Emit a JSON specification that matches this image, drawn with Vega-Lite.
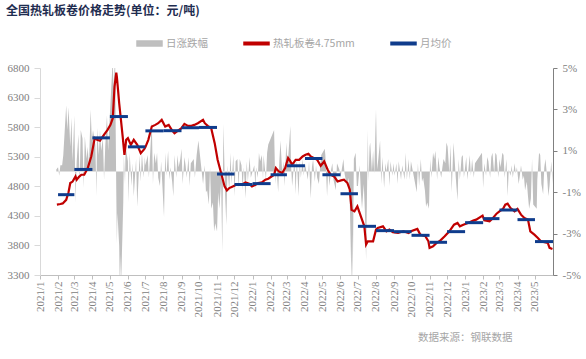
{
"$schema": "https://vega.github.io/schema/vega-lite/v6.json",
"width": 513, "height": 207,
"autosize": {"type": "none"},
"padding": {"left": 40, "top": 68, "right": 33, "bottom": 84},
"background": "white",
"title": {"text": "全国热轧板卷价格走势(单位：元/吨)", "anchor": "start", "frame": "group", "dx": -34, "offset": 12, "font": "Noto Sans CJK SC", "fontSize": 12, "fontWeight": "bold", "color": "#1F2D50"},
"config": {"view": {"stroke": null}, "axis": {"labelFont": "Liberation Serif", "labelFontSize": 11, "labelColor": "#808080", "grid": false, "title": null, "labelOverlap": false, "labelBound": false}, "axisY": {"labelOverlap": false}},
"datasets": {
"chg": [
{"d":"2021-01-29","v":0.1},{"d":"2021-02-01","v":0.2},{"d":"2021-02-03","v":-0.2},{"d":"2021-02-05","v":0.3},{"d":"2021-02-08","v":0.3},{"d":"2021-02-10","v":0.8},{"d":"2021-02-15","v":3.2},{"d":"2021-02-17","v":2.0},{"d":"2021-02-19","v":3.1},{"d":"2021-02-22","v":1.2},{"d":"2021-02-24","v":2.6},{"d":"2021-02-26","v":0.5},
{"d":"2021-03-01","v":2.7},{"d":"2021-03-03","v":-1.5},{"d":"2021-03-05","v":0.5},{"d":"2021-03-08","v":1.8},{"d":"2021-03-10","v":-0.6},{"d":"2021-03-12","v":2.0},{"d":"2021-03-15","v":1.6},{"d":"2021-03-17","v":-0.8},{"d":"2021-03-19","v":1.7},{"d":"2021-03-22","v":0.6},{"d":"2021-03-24","v":1.2},{"d":"2021-03-26","v":0.2},{"d":"2021-03-29","v":3.0},{"d":"2021-03-31","v":1.5},
{"d":"2021-04-02","v":2.0},{"d":"2021-04-06","v":1.3},{"d":"2021-04-08","v":-1.2},{"d":"2021-04-09","v":2.1},{"d":"2021-04-12","v":0.8},{"d":"2021-04-14","v":2.0},{"d":"2021-04-16","v":1.0},{"d":"2021-04-19","v":1.6},{"d":"2021-04-21","v":-0.4},{"d":"2021-04-23","v":1.2},{"d":"2021-04-26","v":2.7},{"d":"2021-04-28","v":1.0},{"d":"2021-04-30","v":2.2},
{"d":"2021-05-06","v":5.5},{"d":"2021-05-07","v":4.0},{"d":"2021-05-10","v":5.5},{"d":"2021-05-11","v":2.0},{"d":"2021-05-12","v":-1.0},{"d":"2021-05-13","v":-3.5},{"d":"2021-05-14","v":-2.0},{"d":"2021-05-17","v":-3.6},{"d":"2021-05-18","v":-5.5},{"d":"2021-05-19","v":-4.0},{"d":"2021-05-20","v":-5.5},{"d":"2021-05-21","v":-4.7},{"d":"2021-05-24","v":-1.5},{"d":"2021-05-25","v":0.8},{"d":"2021-05-27","v":-0.6},{"d":"2021-05-28","v":1.2},
{"d":"2021-06-01","v":0.5},{"d":"2021-06-02","v":-1.5},{"d":"2021-06-04","v":0.9},{"d":"2021-06-07","v":-0.7},{"d":"2021-06-09","v":0.4},{"d":"2021-06-11","v":-1.2},{"d":"2021-06-15","v":0.6},{"d":"2021-06-17","v":-1.7},{"d":"2021-06-21","v":0.8},{"d":"2021-06-23","v":-0.5},{"d":"2021-06-25","v":0.9},{"d":"2021-06-28","v":-0.3},{"d":"2021-06-30","v":0.7},
{"d":"2021-07-01","v":0.3},{"d":"2021-07-05","v":0.8},{"d":"2021-07-07","v":-0.3},{"d":"2021-07-12","v":2.4},{"d":"2021-07-14","v":-0.6},{"d":"2021-07-16","v":0.9},{"d":"2021-07-19","v":0.4},{"d":"2021-07-21","v":0.9},{"d":"2021-07-23","v":-0.3},{"d":"2021-07-26","v":-0.7},{"d":"2021-07-28","v":0.5},
{"d":"2021-08-02","v":-2.2},{"d":"2021-08-04","v":0.9},{"d":"2021-08-06","v":-0.2},{"d":"2021-08-09","v":1.0},{"d":"2021-08-11","v":-0.4},{"d":"2021-08-13","v":0.2},{"d":"2021-08-16","v":-0.5},{"d":"2021-08-18","v":-1.2},{"d":"2021-08-20","v":0.8},{"d":"2021-08-23","v":-0.3},{"d":"2021-08-25","v":0.8},{"d":"2021-08-27","v":0.2},{"d":"2021-08-30","v":0.6},
{"d":"2021-09-01","v":1.1},{"d":"2021-09-03","v":-0.6},{"d":"2021-09-06","v":0.7},{"d":"2021-09-08","v":0.3},{"d":"2021-09-10","v":-0.3},{"d":"2021-09-13","v":0.7},{"d":"2021-09-15","v":-0.7},{"d":"2021-09-17","v":0.4},{"d":"2021-09-22","v":0.6},{"d":"2021-09-24","v":-0.3},{"d":"2021-09-27","v":0.8},{"d":"2021-09-30","v":1.5},
{"d":"2021-10-08","v":-0.6},{"d":"2021-10-11","v":0.3},{"d":"2021-10-13","v":-1.0},{"d":"2021-10-15","v":-0.9},{"d":"2021-10-18","v":-1.6},{"d":"2021-10-20","v":0.2},{"d":"2021-10-22","v":-1.8},{"d":"2021-10-25","v":-1.5},{"d":"2021-10-27","v":-2.9},{"d":"2021-10-29","v":-2.5},
{"d":"2021-11-01","v":-2.9},{"d":"2021-11-03","v":-1.0},{"d":"2021-11-05","v":-1.8},{"d":"2021-11-08","v":-0.5},{"d":"2021-11-10","v":-3.9},{"d":"2021-11-12","v":2.3},{"d":"2021-11-15","v":-1.2},{"d":"2021-11-17","v":-2.6},{"d":"2021-11-19","v":0.3},{"d":"2021-11-22","v":-1.0},{"d":"2021-11-24","v":0.9},{"d":"2021-11-26","v":-0.6},{"d":"2021-11-29","v":0.8},
{"d":"2021-12-01","v":-1.2},{"d":"2021-12-03","v":0.5},{"d":"2021-12-06","v":0.6},{"d":"2021-12-08","v":-0.8},{"d":"2021-12-10","v":0.6},{"d":"2021-12-13","v":0.3},{"d":"2021-12-15","v":-0.9},{"d":"2021-12-17","v":0.2},{"d":"2021-12-20","v":-1.3},{"d":"2021-12-22","v":0.5},{"d":"2021-12-24","v":-0.5},{"d":"2021-12-27","v":0.7},{"d":"2021-12-29","v":-0.3},
{"d":"2022-01-04","v":0.3},{"d":"2022-01-06","v":-0.9},{"d":"2022-01-07","v":0.2},{"d":"2022-01-10","v":-0.3},{"d":"2022-01-12","v":0.9},{"d":"2022-01-14","v":0.5},{"d":"2022-01-17","v":0.8},{"d":"2022-01-19","v":-0.4},{"d":"2022-01-20","v":0.8},{"d":"2022-01-24","v":-0.4},{"d":"2022-01-26","v":0.9},{"d":"2022-01-28","v":1.3},
{"d":"2022-02-07","v":2.0},{"d":"2022-02-09","v":-0.6},{"d":"2022-02-11","v":0.3},{"d":"2022-02-14","v":-1.0},{"d":"2022-02-16","v":0.5},{"d":"2022-02-18","v":1.5},{"d":"2022-02-21","v":-0.1},{"d":"2022-02-23","v":0.5},{"d":"2022-02-25","v":-0.7},{"d":"2022-02-28","v":1.4},
{"d":"2022-03-02","v":0.3},{"d":"2022-03-04","v":1.0},{"d":"2022-03-07","v":2.2},{"d":"2022-03-08","v":0.4},{"d":"2022-03-10","v":-0.7},{"d":"2022-03-14","v":0.6},{"d":"2022-03-16","v":-1.1},{"d":"2022-03-18","v":0.6},{"d":"2022-03-21","v":-1.2},{"d":"2022-03-23","v":0.5},{"d":"2022-03-25","v":-0.3},{"d":"2022-03-28","v":0.6},{"d":"2022-03-30","v":-0.2},
{"d":"2022-04-01","v":0.4},{"d":"2022-04-06","v":-0.4},{"d":"2022-04-08","v":0.5},{"d":"2022-04-11","v":-1.3},{"d":"2022-04-13","v":0.2},{"d":"2022-04-15","v":0.6},{"d":"2022-04-18","v":-0.5},{"d":"2022-04-20","v":0.3},{"d":"2022-04-22","v":-0.3},{"d":"2022-04-25","v":-0.6},{"d":"2022-04-27","v":0.2},{"d":"2022-04-29","v":0.8},
{"d":"2022-05-05","v":1.1},{"d":"2022-05-06","v":0.8},{"d":"2022-05-09","v":-1.2},{"d":"2022-05-11","v":0.2},{"d":"2022-05-13","v":-0.7},{"d":"2022-05-16","v":0.1},{"d":"2022-05-18","v":0.4},{"d":"2022-05-20","v":-0.4},{"d":"2022-05-24","v":-0.9},{"d":"2022-05-26","v":0.4},{"d":"2022-05-30","v":0.1},
{"d":"2022-06-01","v":-0.3},{"d":"2022-06-06","v":0.6},{"d":"2022-06-08","v":-0.1},{"d":"2022-06-10","v":-0.4},{"d":"2022-06-13","v":-0.6},{"d":"2022-06-15","v":-0.3},{"d":"2022-06-17","v":-1.5},{"d":"2022-06-20","v":-5.5},{"d":"2022-06-21","v":-3.0},{"d":"2022-06-22","v":-5.5},{"d":"2022-06-24","v":0.6},{"d":"2022-06-27","v":0.9},{"d":"2022-06-29","v":-0.7},
{"d":"2022-07-01","v":-0.7},{"d":"2022-07-04","v":0.3},{"d":"2022-07-06","v":-1.0},{"d":"2022-07-08","v":-1.8},{"d":"2022-07-11","v":-0.6},{"d":"2022-07-13","v":-2.0},{"d":"2022-07-15","v":-4.3},{"d":"2022-07-18","v":2.0},{"d":"2022-07-19","v":-0.5},{"d":"2022-07-21","v":1.2},{"d":"2022-07-22","v":1.4},{"d":"2022-07-25","v":0.0},{"d":"2022-07-27","v":1.0},{"d":"2022-07-29","v":-0.1},
{"d":"2022-08-01","v":3.0},{"d":"2022-08-03","v":0.1},{"d":"2022-08-05","v":0.6},{"d":"2022-08-08","v":1.5},{"d":"2022-08-10","v":-0.6},{"d":"2022-08-12","v":0.7},{"d":"2022-08-15","v":-0.8},{"d":"2022-08-17","v":0.4},{"d":"2022-08-19","v":0.0},{"d":"2022-08-22","v":0.6},{"d":"2022-08-24","v":-0.7},{"d":"2022-08-26","v":0.5},{"d":"2022-08-29","v":-0.2},{"d":"2022-08-31","v":0.4},
{"d":"2022-09-02","v":-0.2},{"d":"2022-09-05","v":0.4},{"d":"2022-09-07","v":-0.6},{"d":"2022-09-09","v":0.5},{"d":"2022-09-13","v":-0.4},{"d":"2022-09-15","v":0.3},{"d":"2022-09-19","v":-0.4},{"d":"2022-09-21","v":0.9},{"d":"2022-09-23","v":-0.4},{"d":"2022-09-26","v":0.6},{"d":"2022-09-28","v":-0.4},{"d":"2022-09-30","v":0.5},
{"d":"2022-10-10","v":-1.0},{"d":"2022-10-12","v":0.4},{"d":"2022-10-14","v":-0.7},{"d":"2022-10-17","v":0.6},{"d":"2022-10-19","v":-0.5},{"d":"2022-10-21","v":-0.3},{"d":"2022-10-24","v":-0.9},{"d":"2022-10-26","v":-1.7},{"d":"2022-10-28","v":-1.5},{"d":"2022-10-31","v":-1.8},
{"d":"2022-11-02","v":0.6},{"d":"2022-11-04","v":-0.3},{"d":"2022-11-07","v":0.9},{"d":"2022-11-09","v":0.6},{"d":"2022-11-11","v":1.0},{"d":"2022-11-14","v":-0.4},{"d":"2022-11-16","v":0.7},{"d":"2022-11-18","v":0.2},{"d":"2022-11-21","v":-0.3},{"d":"2022-11-23","v":0.2},{"d":"2022-11-25","v":0.6},{"d":"2022-11-28","v":0.4},{"d":"2022-11-30","v":1.4},
{"d":"2022-12-02","v":1.2},{"d":"2022-12-05","v":-0.1},{"d":"2022-12-07","v":1.3},{"d":"2022-12-09","v":-1.0},{"d":"2022-12-12","v":1.4},{"d":"2022-12-14","v":0.6},{"d":"2022-12-16","v":-0.3},{"d":"2022-12-19","v":-1.4},{"d":"2022-12-21","v":0.6},{"d":"2022-12-23","v":-0.4},{"d":"2022-12-26","v":0.7},{"d":"2022-12-28","v":0.8},{"d":"2022-12-30","v":-0.3},
{"d":"2023-01-03","v":0.7},{"d":"2023-01-05","v":-0.4},{"d":"2023-01-09","v":0.8},{"d":"2023-01-11","v":-0.2},{"d":"2023-01-13","v":0.6},{"d":"2023-01-16","v":-0.3},{"d":"2023-01-18","v":0.4},{"d":"2023-01-30","v":0.9},
{"d":"2023-02-01","v":-0.8},{"d":"2023-02-03","v":0.4},{"d":"2023-02-06","v":-0.2},{"d":"2023-02-08","v":0.7},{"d":"2023-02-10","v":0.5},{"d":"2023-02-13","v":-0.3},{"d":"2023-02-15","v":0.7},{"d":"2023-02-17","v":0.9},{"d":"2023-02-20","v":-0.1},{"d":"2023-02-22","v":0.9},{"d":"2023-02-24","v":0.8},{"d":"2023-02-27","v":-0.3},
{"d":"2023-03-01","v":0.6},{"d":"2023-03-03","v":0.2},{"d":"2023-03-06","v":0.9},{"d":"2023-03-08","v":0.8},{"d":"2023-03-10","v":-0.3},{"d":"2023-03-13","v":0.6},{"d":"2023-03-15","v":-1.2},{"d":"2023-03-17","v":0.1},{"d":"2023-03-20","v":-0.2},{"d":"2023-03-22","v":0.3},{"d":"2023-03-24","v":-0.3},{"d":"2023-03-27","v":0.4},{"d":"2023-03-29","v":-0.1},{"d":"2023-03-31","v":0.2},
{"d":"2023-04-03","v":-0.6},{"d":"2023-04-05","v":-0.2},{"d":"2023-04-07","v":0.3},{"d":"2023-04-10","v":-0.4},{"d":"2023-04-12","v":-0.2},{"d":"2023-04-14","v":-0.9},{"d":"2023-04-17","v":-0.5},{"d":"2023-04-19","v":-1.2},{"d":"2023-04-21","v":-1.8},{"d":"2023-04-24","v":-1.3},{"d":"2023-04-26","v":0.6},{"d":"2023-04-28","v":-1.6},
{"d":"2023-05-04","v":-1.8},{"d":"2023-05-05","v":-0.4},{"d":"2023-05-08","v":0.9},{"d":"2023-05-10","v":0.8},{"d":"2023-05-12","v":-0.6},{"d":"2023-05-15","v":-1.1},{"d":"2023-05-17","v":0.2},{"d":"2023-05-19","v":0.6},{"d":"2023-05-22","v":-0.3},{"d":"2023-05-24","v":-1.2},{"d":"2023-05-26","v":-0.7},{"d":"2023-05-29","v":0.5},{"d":"2023-05-31","v":-0.6}
],
"price": [
{"d":"2021-01-30","p":4490},{"d":"2021-02-05","p":4500},{"d":"2021-02-09","p":4510},{"d":"2021-02-15","p":4570},{"d":"2021-02-19","p":4700},{"d":"2021-02-22","p":4855},{"d":"2021-02-26","p":4880},{"d":"2021-03-03","p":4966},{"d":"2021-03-05","p":4911},{"d":"2021-03-09","p":4960},{"d":"2021-03-13","p":4995},{"d":"2021-03-18","p":4995},{"d":"2021-03-24","p":5108},{"d":"2021-03-30","p":5304},
{"d":"2021-04-05","p":5614},{"d":"2021-04-09","p":5585},{"d":"2021-04-14","p":5570},{"d":"2021-04-16","p":5600},{"d":"2021-04-22","p":5687},{"d":"2021-04-27","p":5754},{"d":"2021-05-02","p":5838},{"d":"2021-05-06","p":5951},{"d":"2021-05-09","p":6485},{"d":"2021-05-12","p":6721},{"d":"2021-05-13","p":6650},{"d":"2021-05-15","p":6429},{"d":"2021-05-17","p":6204},{"d":"2021-05-20","p":5923},{"d":"2021-05-23","p":5641},{"d":"2021-05-26","p":5332},{"d":"2021-05-29","p":5585},
{"d":"2021-06-01","p":5614},{"d":"2021-06-06","p":5501},{"d":"2021-06-11","p":5585},{"d":"2021-06-17","p":5501},{"d":"2021-06-23","p":5361},{"d":"2021-06-29","p":5428},{"d":"2021-07-01","p":5462},{"d":"2021-07-06","p":5585},{"d":"2021-07-12","p":5810},{"d":"2021-07-18","p":5838},{"d":"2021-07-23","p":5867},{"d":"2021-07-29","p":5923},
{"d":"2021-08-04","p":5810},{"d":"2021-08-10","p":5838},{"d":"2021-08-16","p":5742},{"d":"2021-08-20","p":5698},{"d":"2021-08-26","p":5742},{"d":"2021-09-01","p":5782},{"d":"2021-09-06","p":5855},{"d":"2021-09-12","p":5821},{"d":"2021-09-18","p":5821},{"d":"2021-09-23","p":5838},{"d":"2021-09-29","p":5867},
{"d":"2021-10-08","p":5923},{"d":"2021-10-11","p":5867},{"d":"2021-10-16","p":5821},{"d":"2021-10-22","p":5782},{"d":"2021-10-28","p":5529},{"d":"2021-11-02","p":5248},{"d":"2021-11-08","p":5024},{"d":"2021-11-14","p":4798},{"d":"2021-11-18","p":4730},{"d":"2021-11-22","p":4770},{"d":"2021-11-28","p":4798},
{"d":"2021-12-04","p":4826},{"d":"2021-12-13","p":4826},{"d":"2021-12-20","p":4865},{"d":"2021-12-26","p":4843},{"d":"2021-12-31","p":4798},
{"d":"2022-01-06","p":4826},{"d":"2022-01-11","p":4855},{"d":"2022-01-17","p":4865},{"d":"2022-01-23","p":4911},{"d":"2022-01-28","p":4928},{"d":"2022-02-07","p":4995},{"d":"2022-02-10","p":5108},{"d":"2022-02-15","p":5051},{"d":"2022-02-21","p":5024},{"d":"2022-02-26","p":5108},
{"d":"2022-03-03","p":5277},{"d":"2022-03-07","p":5220},{"d":"2022-03-10","p":5164},{"d":"2022-03-16","p":5248},{"d":"2022-03-22","p":5248},{"d":"2022-03-28","p":5304},{"d":"2022-04-02","p":5332},{"d":"2022-04-07","p":5349},{"d":"2022-04-11","p":5304},{"d":"2022-04-17","p":5276},{"d":"2022-04-22","p":5248},{"d":"2022-04-28","p":5147},
{"d":"2022-05-04","p":5220},{"d":"2022-05-10","p":5079},{"d":"2022-05-15","p":4995},{"d":"2022-05-21","p":4966},{"d":"2022-05-27","p":4882},{"d":"2022-06-02","p":4899},{"d":"2022-06-07","p":4911},{"d":"2022-06-13","p":4855},{"d":"2022-06-17","p":4742},{"d":"2022-06-20","p":4404},{"d":"2022-06-25","p":4376},{"d":"2022-06-30","p":4460},
{"d":"2022-07-06","p":4292},{"d":"2022-07-12","p":4123},{"d":"2022-07-15","p":3814},{"d":"2022-07-18","p":3870},{"d":"2022-07-27","p":3870},{"d":"2022-08-01","p":4067},{"d":"2022-08-04","p":4096},{"d":"2022-08-13","p":4123},{"d":"2022-08-19","p":4039},{"d":"2022-08-24","p":4067},{"d":"2022-08-30","p":4022},
{"d":"2022-09-08","p":4011},{"d":"2022-09-17","p":4039},{"d":"2022-09-26","p":4011},{"d":"2022-09-30","p":4039},{"d":"2022-10-11","p":4079},{"d":"2022-10-16","p":3983},{"d":"2022-10-25","p":3954},{"d":"2022-10-30","p":3870},{"d":"2022-11-01","p":3758},{"d":"2022-11-07","p":3786},{"d":"2022-11-13","p":3843},{"d":"2022-11-18","p":3870},{"d":"2022-11-27","p":3954},
{"d":"2022-12-05","p":4039},{"d":"2022-12-13","p":4151},{"d":"2022-12-19","p":4180},{"d":"2022-12-23","p":4123},{"d":"2022-12-29","p":4151},
{"d":"2023-01-06","p":4180},{"d":"2023-01-15","p":4219},{"d":"2023-01-20","p":4236},{"d":"2023-01-31","p":4303},{"d":"2023-02-03","p":4224},{"d":"2023-02-12","p":4207},{"d":"2023-02-18","p":4264},{"d":"2023-02-24","p":4337},
{"d":"2023-03-01","p":4376},{"d":"2023-03-07","p":4416},{"d":"2023-03-11","p":4489},{"d":"2023-03-15","p":4506},{"d":"2023-03-20","p":4433},{"d":"2023-03-27","p":4376},{"d":"2023-04-01","p":4416},{"d":"2023-04-07","p":4320},{"d":"2023-04-13","p":4264},{"d":"2023-04-19","p":4236},{"d":"2023-04-23","p":4039},{"d":"2023-04-30","p":3983},
{"d":"2023-05-06","p":3927},{"d":"2023-05-11","p":3870},{"d":"2023-05-17","p":3853},{"d":"2023-05-23","p":3843},{"d":"2023-05-26","p":3758},{"d":"2023-05-31","p":3741}
],
"avg": [
{"m":"2021-02-01","m2":"2021-03-01","a":4658},{"m":"2021-03-01","m2":"2021-04-01","a":5085},{"m":"2021-04-01","m2":"2021-05-01","a":5619},{"m":"2021-05-01","m2":"2021-06-01","a":5979},{"m":"2021-06-01","m2":"2021-07-01","a":5467},{"m":"2021-07-01","m2":"2021-08-01","a":5737},{"m":"2021-08-01","m2":"2021-09-01","a":5740},{"m":"2021-09-01","m2":"2021-10-01","a":5790},{"m":"2021-10-01","m2":"2021-11-01","a":5795},{"m":"2021-11-01","m2":"2021-12-01","a":5007},{"m":"2021-12-01","m2":"2022-01-01","a":4830},
{"m":"2022-01-01","m2":"2022-02-01","a":4845},{"m":"2022-02-01","m2":"2022-03-01","a":4995},{"m":"2022-03-01","m2":"2022-04-01","a":5147},{"m":"2022-04-01","m2":"2022-05-01","a":5270},{"m":"2022-05-01","m2":"2022-06-01","a":4995},{"m":"2022-06-01","m2":"2022-07-01","a":4674},{"m":"2022-07-01","m2":"2022-08-01","a":4123},{"m":"2022-08-01","m2":"2022-09-01","a":4050},{"m":"2022-09-01","m2":"2022-10-01","a":4033},{"m":"2022-10-01","m2":"2022-11-01","a":3971},{"m":"2022-11-01","m2":"2022-12-01","a":3853},{"m":"2022-12-01","m2":"2023-01-01","a":4033},
{"m":"2023-01-01","m2":"2023-02-01","a":4185},{"m":"2023-02-01","m2":"2023-03-01","a":4253},{"m":"2023-03-01","m2":"2023-04-01","a":4399},{"m":"2023-04-01","m2":"2023-05-01","a":4236},{"m":"2023-05-01","m2":"2023-06-01","a":3865}
]
},
"layer": [
{
"data": {"name": "chg"},
"mark": {"type": "area", "clip": true},
"encoding": {
"x": {"field": "d", "type": "temporal",
 "scale": {"type": "utc", "domain": [{"year": 2021, "month": 1, "date": 1, "utc": true}, {"year": 2023, "month": 5, "date": 31, "hours": 23, "utc": true}]},
 "axis": {"format": "%Y/%-m", "labelAngle": 270, "tickCount": {"interval": "month", "step": 1}, "labelFlush": false, "labelOverlap": false, "tickSize": 4, "labelPadding": 2, "domainColor": "#BFBFBF", "tickColor": "#BFBFBF",
  "title": "数据来源：钢联数据", "titleFont": "Noto Sans CJK SC", "titleFontSize": 10.5, "titleFontWeight": "normal", "titleColor": "#A6A6A6", "titleAngle": 0, "titleAlign": "right", "titleBaseline": "middle", "titleX": 472, "titleY": 62}},
"y": {"field": "v", "type": "quantitative", "scale": {"domain": [-5, 5], "nice": false},
 "axis": {"orient": "right", "values": [-5, -3, -1, 1, 3, 5], "labelExpr": "datum.value + '%'", "labelOverlap": false, "domainColor": "#808080", "tickColor": "#808080", "tickSize": 4, "labelPadding": 5, "title": null}},
"color": {"datum": "日涨跌幅", "type": "nominal",
 "scale": {"domain": ["日涨跌幅", "热轧板卷4.75mm", "月均价"], "range": ["#BFBFBF", "#C00000", "#0F3C8C"]},
 "legend": {"orient": "none", "legendX": 96, "legendY": -38, "direction": "horizontal", "title": null, "padding": 0,
  "labelFont": "Noto Sans CJK SC", "labelFontSize": 10.5, "labelColor": "#A6A6A6", "symbolSize": 625, "columnPadding": 33, "labelOffset": 3,
  "encode": {"symbols": {"update": {"shape": {"signal": "datum.value === '日涨跌幅' ? 'M-1,-0.2H1V0.2H-1Z' : 'M-1,-0.1H1V0.1H-1Z'"}, "fill": {"scale": "color", "field": "value"}, "stroke": {"value": "transparent"}, "opacity": {"value": 1}}}}}}
}
},
{
"layer": [
{
"data": {"name": "price"},
"mark": {"type": "line", "strokeWidth": 2.2},
"encoding": {
"x": {"field": "d", "type": "temporal", "scale": {"type": "utc"}},
"y": {"field": "p", "type": "quantitative", "scale": {"domain": [3300, 6800], "nice": false, "zero": false},
 "axis": {"orient": "left", "values": [3300, 3800, 4300, 4800, 5300, 5800, 6300, 6800], "format": "d", "labelOverlap": false, "domainColor": "#D9D9D9", "tickColor": "#D9D9D9", "tickSize": 6, "labelPadding": 5, "title": null}},
"color": {"datum": "热轧板卷4.75mm", "type": "nominal"}
}
},
{
"data": {"name": "avg"},
"mark": {"type": "rule", "strokeWidth": 3},
"encoding": {
"x": {"field": "m", "type": "temporal", "scale": {"type": "utc"}},
"x2": {"field": "m2"},
"y": {"field": "a", "type": "quantitative",
 "axis": {"orient": "left", "values": [3300, 3800, 4300, 4800, 5300, 5800, 6300, 6800], "format": "d", "labelOverlap": false, "domainColor": "#D9D9D9", "tickColor": "#D9D9D9", "tickSize": 6, "labelPadding": 5, "title": null}},
"color": {"datum": "月均价", "type": "nominal"}
}
}
]
}
],
"resolve": {"scale": {"y": "independent"}}
}
